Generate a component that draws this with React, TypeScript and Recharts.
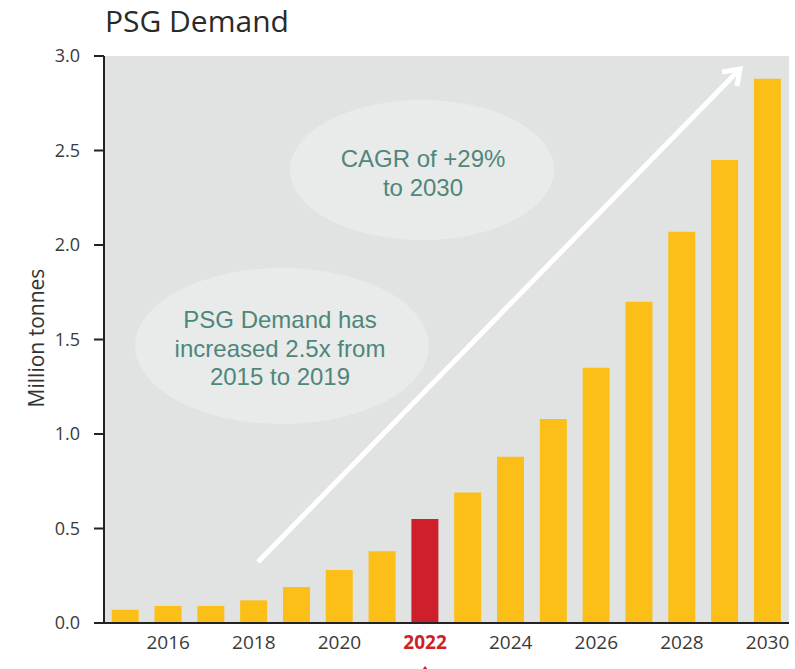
import React from 'react';
import { BarChart, Bar, XAxis, YAxis, CartesianGrid, Cell } from 'recharts';

const years = ['2015', '2016', '2017', '2018', '2019', '2020', '2021', '2022', '2023', '2024', '2025', '2026', '2027', '2028', '2029', '2030'];
const demand = [0.07, 0.09, 0.09, 0.12, 0.19, 0.28, 0.38, 0.55, 0.69, 0.88, 1.08, 1.35, 1.70, 2.07, 2.45, 2.88];
const yTicks = [0, 0.5, 1.0, 1.5, 2.0, 2.5, 3.0];
const highlightYear = '2022';
const titleText = 'PSG Demand';
const yLabel = 'Million tonnes';
const noteCagr = ['CAGR of +29%', 'to 2030'];
const noteHist = ['PSG Demand has', 'increased 2.5x from', '2015 to 2019'];

const data = years.map((y, i) => ({ year: y, value: demand[i] }));

const FONT = '"Open Sans", "DejaVu Sans", sans-serif';
const NOTE_FONT = '"Liberation Sans", Arial, sans-serif';
const YELLOW = '#fbbf17';
const RED = '#cf1f2a';
const TEAL = '#4d877c';

const XTick = (props: any) => {
  const { x, y, payload } = props;
  const yr = Number(payload.value);
  if (yr % 2 !== 0) return null;
  const hi = payload.value === highlightYear;
  return (
    <g>
      <text
        x={x}
        y={y + 18}
        textAnchor="middle"
        fontFamily={FONT}
        fontSize={19}
        fontWeight={hi ? 700 : 400}
        fill={hi ? RED : '#3a3a3a'}
      >
        {payload.value}
      </text>
      {hi && (
        <path d={`M${x} ${y + 35} L${x - 6} ${y + 43} L${x - 2} ${y + 43} L${x - 2} ${y + 52} L${x + 2} ${y + 52} L${x + 2} ${y + 43} L${x + 6} ${y + 43} Z`} fill={RED} />
      )}
    </g>
  );
};

export default function App() {
  return (
    <div style={{ position: 'absolute', left: 0, top: 0, width: 795, height: 669, background: '#fff' }}>
      <BarChart
        width={795}
        height={669}
        data={data}
        margin={{ top: 56, right: 6, bottom: 0, left: 0 }}
        barCategoryGap="18%"
      >
        <CartesianGrid horizontal={false} vertical={false} fill="#e1e3e3" stroke="none" />
        <XAxis
          dataKey="year"
          interval={0}
          height={46}
          tickLine={false}
          axisLine={{ stroke: '#222', strokeWidth: 2 }}
          tick={<XTick />}
        />
        <YAxis
          domain={[0, 3]}
          ticks={yTicks}
          width={104}
          tickSize={10}
          tickMargin={14}
          tickLine={{ stroke: '#222', strokeWidth: 2 }}
          axisLine={{ stroke: '#222', strokeWidth: 2 }}
          tickFormatter={(v: number) => v.toFixed(1)}
          tick={{ fill: '#3a3a3a', fontSize: 18, fontFamily: FONT }}
        />
        <Bar dataKey="value" isAnimationActive={false}>
          {data.map((d) => (
            <Cell key={d.year} fill={d.year === highlightYear ? RED : YELLOW} />
          ))}
        </Bar>
      </BarChart>
      <svg
        width={795}
        height={669}
        style={{ position: 'absolute', left: 0, top: 0, pointerEvents: 'none' }}
      >
        <text x={105} y={32} fontFamily={FONT} fontSize={30} fill="#2a2a2a">{titleText}</text>
        <text
          transform="translate(44,338) rotate(-90)"
          textAnchor="middle"
          fontFamily={FONT}
          fontSize={21}
          fill="#333"
        >
          {yLabel}
        </text>
        <ellipse cx={422} cy={170} rx={132} ry={70} fill="#e9ebea" />
        <ellipse cx={282} cy={346} rx={147} ry={78} fill="#e9ebea" />
        <text textAnchor="middle" fontFamily={NOTE_FONT} fontSize={24} fill={TEAL}>
          {noteCagr.map((t, i) => (
            <tspan key={t} x={423} y={167 + i * 29}>{t}</tspan>
          ))}
        </text>
        <text textAnchor="middle" fontFamily={NOTE_FONT} fontSize={24} fill={TEAL}>
          {noteHist.map((t, i) => (
            <tspan key={t} x={280} y={328 + i * 28.5}>{t}</tspan>
          ))}
        </text>
        <line x1={258} y1={562} x2={738} y2={71} stroke="#fff" strokeWidth={5} />
        <polyline points="722,72 740,69 737,86" fill="none" stroke="#fff" strokeWidth={5} strokeLinejoin="miter" />
      </svg>
    </div>
  );
}
